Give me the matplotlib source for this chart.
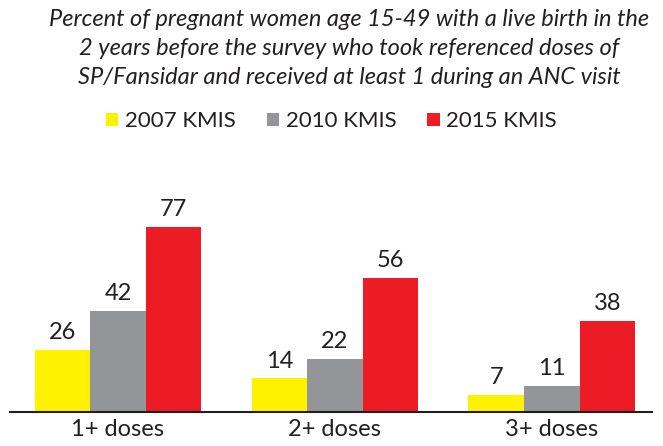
import numpy as np
import matplotlib
matplotlib.use("Agg")
import matplotlib.pyplot as plt

# Data
categories = ["1+ doses", "2+ doses", "3+ doses"]
series_names = ["2007 KMIS", "2010 KMIS", "2015 KMIS"]
kmis_2007 = [26, 14, 7]
kmis_2010 = [42, 22, 11]
kmis_2015 = [77, 56, 38]

colors = ["#FFF200", "#939598", "#ED1C24"]
dark = "#231F20"

plt.rcParams["font.family"] = ["Lato", "DejaVu Sans"]

fig = plt.figure(figsize=(6.63, 4.46), dpi=100)
ax = fig.add_axes([0.015, 0.0762, 0.968, 0.4305])

x = np.arange(len(categories))
width = 0.256
for i, (vals, name, col) in enumerate(zip([kmis_2007, kmis_2010, kmis_2015], series_names, colors)):
    pos = x + (i - 1) * width
    bars = ax.bar(pos, vals, width, color=col, label=name, zorder=2)
    for b, v in zip(bars, vals):
        ax.text(b.get_x() + b.get_width() / 2, v + 2.8, str(v), ha="center", va="bottom",
                fontsize=17, color=dark, clip_on=False)

ax.set_xlim(-0.498, 2.461)
ax.set_ylim(0, 80)
ax.set_xticks(x)
ax.set_xticklabels(categories, fontsize=17, color=dark)
ax.tick_params(axis="x", length=0, pad=5)
ax.set_yticks([])
for s in ["top", "right", "left"]:
    ax.spines[s].set_visible(False)
ax.spines["bottom"].set_color(dark)
ax.spines["bottom"].set_linewidth(1.5)

fig.text(0.527, 0.979, "Percent of pregnant women age 15-49 with a live birth in the\n"
         "2 years before the survey who took referenced doses of\n"
         "SP/Fansidar and received at least 1 during an ANC visit",
         ha="center", va="top", fontsize=17, style="italic", color=dark, linespacing=1.45)

handles, labels = ax.get_legend_handles_labels()
fig.legend(handles, labels, loc="center", bbox_to_anchor=(0.5, 0.728), ncol=3, frameon=False,
           fontsize=16, handlelength=0.55, handleheight=0.55, handletextpad=0.3, columnspacing=1.4,
           labelcolor=dark)

fig.savefig("out.png", dpi=100)
